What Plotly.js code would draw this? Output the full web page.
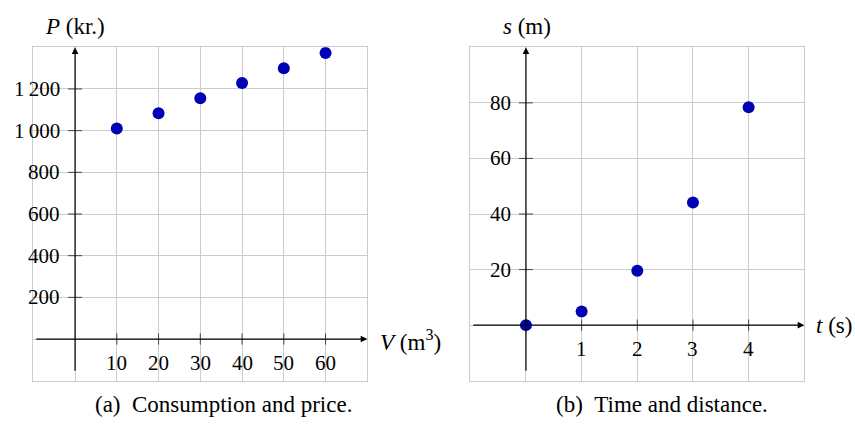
<!DOCTYPE html>
<html><head><meta charset="utf-8">
<script src="https://cdn.plot.ly/plotly-3.0.1.min.js"></script>
<style>html,body{margin:0;padding:0;background:#fff}#c{width:855px;height:424px}</style>
</head><body><div id="c"></div>
<script>
// Panel (a): consumption and price
const volume = [10, 20, 30, 40, 50, 60];
const price = [1010, 1083, 1156, 1229, 1300, 1373];
const aXTicks = [10, 20, 30, 40, 50, 60];
const aYTicks = [200, 400, 600, 800, 1000, 1200];
const aYTickLabels = ["200", "400", "600", "800", "1\u2009000", "1\u2009200"];
// Panel (b): time and distance
const time = [0, 1, 2, 3, 4];
const distance = [0, 4.9, 19.6, 44.1, 78.4];
const bXTicks = [1, 2, 3, 4];
const bYTicks = [20, 40, 60, 80];

const FONT = "'Liberation Serif', 'Times New Roman', serif";
const FS = 21;
const FT = 23;
const DOT = "#0000b4";
const TICKC = "#444";

const traces = [
  {x: aXTicks, y: aXTicks.map(() => 0), xaxis: "x", yaxis: "y", mode: "markers", hoverinfo: "skip",
   marker: {symbol: "line-ns", size: 8, line: {width: 1, color: TICKC}}},
  {x: aYTicks.map(() => 0), y: aYTicks, xaxis: "x", yaxis: "y", mode: "markers", hoverinfo: "skip",
   marker: {symbol: "line-ew", size: 10, line: {width: 1, color: TICKC}}},
  {x: volume, y: price, xaxis: "x", yaxis: "y", mode: "markers",
   marker: {size: 12, color: DOT}},
  {x: bXTicks, y: bXTicks.map(() => 0), xaxis: "x2", yaxis: "y2", mode: "markers", hoverinfo: "skip",
   marker: {symbol: "line-ns", size: 8, line: {width: 1, color: TICKC}}},
  {x: bYTicks.map(() => 0), y: bYTicks, xaxis: "x2", yaxis: "y2", mode: "markers", hoverinfo: "skip",
   marker: {symbol: "line-ew", size: 10, line: {width: 1, color: TICKC}}},
  {x: time, y: distance, xaxis: "x2", yaxis: "y2", mode: "markers", cliponaxis: false,
   marker: {size: 12, color: DOT}}
];

const gridAxis = (extra) => Object.assign({
  showgrid: true, gridcolor: "#cccccc", gridwidth: 1, zeroline: false,
  showline: true, mirror: true, linecolor: "#cccccc", linewidth: 1,
  showticklabels: false, ticks: "", fixedrange: true
}, extra);

const ann = [];
const arrow = (xr, yr, x, y, ax, ay) => ann.push({
  xref: xr, yref: yr, axref: xr, ayref: yr, x: x, y: y, ax: ax, ay: ay,
  text: " ", showarrow: true, arrowhead: 2, arrowsize: 1.1, arrowwidth: 1.2, arrowcolor: "#000", standoff: 0
});
arrow("x", "y", 70, 0, -10, 0);
arrow("x", "y", 0, 1400, 0, -200);
arrow("x2", "y2", 5, 0, -1, 0);
arrow("x2", "y2", 0, 100, 0, -20);

const txt = (o, size) => ann.push(Object.assign({showarrow: false, font: {family: FONT, size: size || FS, color: "#000"}}, o));
aXTicks.forEach(v => txt({xref: "x", yref: "y", x: v, y: 0, text: String(v), xanchor: "center", yanchor: "top", yshift: -10}));
aYTicks.forEach((v, i) => txt({xref: "x", yref: "y", x: 0, y: v, text: aYTickLabels[i], xanchor: "right", yanchor: "middle", xshift: -13}));
bXTicks.forEach(v => txt({xref: "x2", yref: "y2", x: v, y: 0, text: String(v), xanchor: "center", yanchor: "top", yshift: -10}));
bYTicks.forEach(v => txt({xref: "x2", yref: "y2", x: 0, y: v, text: String(v), xanchor: "right", yanchor: "middle", xshift: -13}));

txt({xref: "paper", yref: "paper", x: 43/855, y: 1 - 27/424, xanchor: "left", yanchor: "middle", text: "<i>P</i> (kr.)"}, FT);
txt({xref: "paper", yref: "paper", x: 378/855, y: 1 - 340/424, xanchor: "left", yanchor: "middle", text: "<i>V</i> (m<sup>3</sup>)"}, FT);
txt({xref: "paper", yref: "paper", x: 501/855, y: 1 - 27/424, xanchor: "left", yanchor: "middle", text: "<i>s</i> (m)"}, FT);
txt({xref: "paper", yref: "paper", x: 814/855, y: 1 - 325/424, xanchor: "left", yanchor: "middle", text: "<i>t</i> (s)"}, FT);
txt({xref: "paper", yref: "paper", x: 223/855, y: 1 - 404/424, xanchor: "center", yanchor: "middle", text: "(a)\u2002Consumption and price."}, FT);
txt({xref: "paper", yref: "paper", x: 662/855, y: 1 - 404/424, xanchor: "center", yanchor: "middle", text: "(b)\u2002Time and distance."}, FT);

const layout = {
  width: 855, height: 424, margin: {l: 0, r: 0, t: 0, b: 0},
  paper_bgcolor: "#fff", plot_bgcolor: "#fff", showlegend: false,
  xaxis: gridAxis({domain: [33.3/855, 367.3/855], range: [-10, 70], dtick: 10, tick0: 0}),
  yaxis: gridAxis({domain: [1 - 380.7/424, 1 - 47.3/424], range: [-200, 1400], dtick: 200, tick0: 0}),
  xaxis2: gridAxis({domain: [470.3/855, 804.3/855], range: [-1, 5], dtick: 1, tick0: 0, anchor: "y2"}),
  yaxis2: gridAxis({domain: [1 - 380.7/424, 1 - 47.3/424], range: [-20, 100], dtick: 20, tick0: 0, anchor: "x2"}),
  annotations: ann
};
Plotly.newPlot("c", traces, layout, {staticPlot: true});
</script></body></html>
